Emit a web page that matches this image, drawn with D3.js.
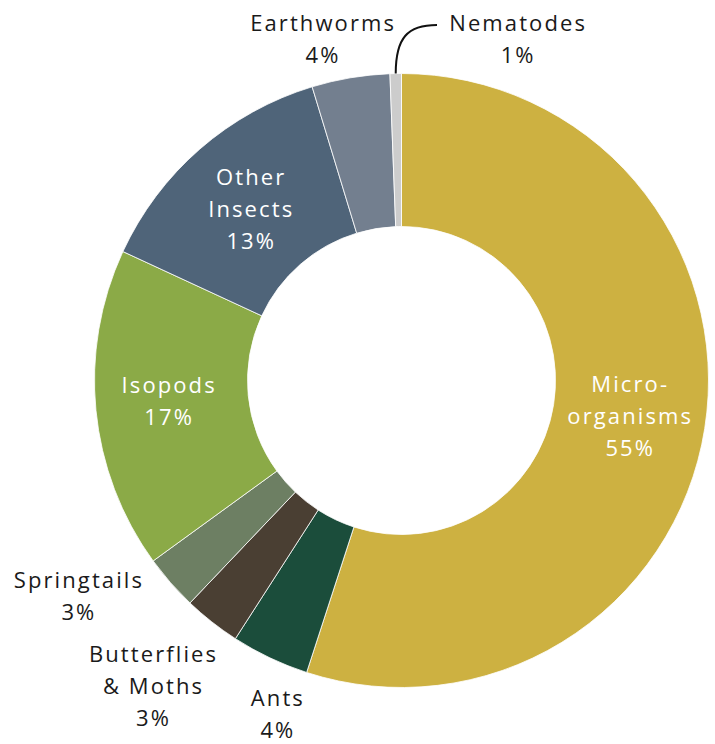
<!DOCTYPE html>
<html><head><meta charset="utf-8">
<script src="https://cdn.jsdelivr.net/npm/d3@7"></script>
<style>html,body{margin:0;padding:0;background:#fff;}svg{display:block;}</style>
</head><body>
<svg id="chart" width="715" height="744"></svg>
<script>
const categories = ["Micro-organisms", "Ants", "Butterflies & Moths", "Springtails", "Isopods", "Other Insects", "Earthworms", "Nematodes"];
const values = [55, 4.1, 3.0, 2.9, 16.9, 13.4, 4.1, 0.6];
const labelLines = [["Micro-", "organisms"], ["Ants"], ["Butterflies", "& Moths"], ["Springtails"], ["Isopods"], ["Other", "Insects"], ["Earthworms"], ["Nematodes"]];
const colors = ["#CDB141", "#1B4D3B", "#4A3F33", "#6D7F63", "#8BAA47", "#4F6479", "#737F8F", "#CCCCCC"];

// layout (not data)
const W = 715, H = 744, cx = 401.5, cy = 380.5, R = 307, r0 = 154;
const inside = new Set(["Micro-organisms", "Isopods", "Other Insects"]);
const insideNudge = {"Isopods": [-4, -2], "Other Insects": [0, 3], "Micro-organisms": [0, 0]};
// outside label placement: polar (degrees clockwise from top, radius)
const outsidePos = {
  "Ants": {a: 200.5, r: 356},
  "Butterflies & Moths": {a: 219.2, r: 394},
  "Springtails": {a: 236.3, r: 389},
  "Earthworms": {a: 346.9, r: 350.6},
  "Nematodes": {a: 18.7, r: 360.5}
};
const lineH = 32;
const LS = 2.1;

const svg = d3.select("#chart");
const g = svg.append("g").attr("transform", `translate(${cx},${cy})`);
const data = categories.map((c, i) => ({name: c, value: values[i], lines: labelLines[i], color: colors[i]}));
const pie = d3.pie().value(d => d.value).sort(null);
const arcs = pie(data);
const arc = d3.arc().innerRadius(r0).outerRadius(R);

g.selectAll("path.slice").data(arcs).join("path")
  .attr("class", "slice")
  .attr("d", arc)
  .attr("fill", d => d.data.color)
  .attr("stroke", "#ffffff")
  .attr("stroke-width", 0.8);

const fmt = v => Math.round(v) + "%";
const font = "'Open Sans', sans-serif";

arcs.forEach(d => {
  let x, y, fill;
  if (inside.has(d.data.name)) {
    [x, y] = arc.centroid(d);
    const nd = insideNudge[d.data.name];
    x += nd[0]; y += nd[1];
    fill = "#ffffff";
  } else {
    const p = outsidePos[d.data.name];
    const t = p.a * Math.PI / 180;
    x = p.r * Math.sin(t); y = -p.r * Math.cos(t);
    fill = "#1a1a1a";
  }
  const lines = d.data.lines.concat([fmt(d.data.value)]);
  const n = lines.length;
  const t = g.append("text")
    .attr("text-anchor", "middle")
    .attr("font-family", font)
    .attr("font-size", 22)
    .attr("letter-spacing", LS)
    .attr("fill", fill);
  lines.forEach((ln, i) => {
    t.append("tspan")
      .attr("x", x + LS / 2)
      .attr("y", y + (i - (n - 1) / 2) * lineH)
      .attr("dy", "0.35em")
      .text(ln);
  });
});

// leader line for Nematodes
const nem = arcs[arcs.length - 1];
const mid = (nem.startAngle + nem.endAngle) / 2;
const sx = R * Math.sin(mid), sy = -R * Math.cos(mid);
const ex = 437 - cx, ey = 25 - cy;
g.append("path")
  .attr("d", `M${sx},${sy} C${sx},${sy - 36} ${sx + 12},${ey} ${ex},${ey}`)
  .attr("fill", "none")
  .attr("stroke", "#111")
  .attr("stroke-width", 2);
</script>
</body></html>
